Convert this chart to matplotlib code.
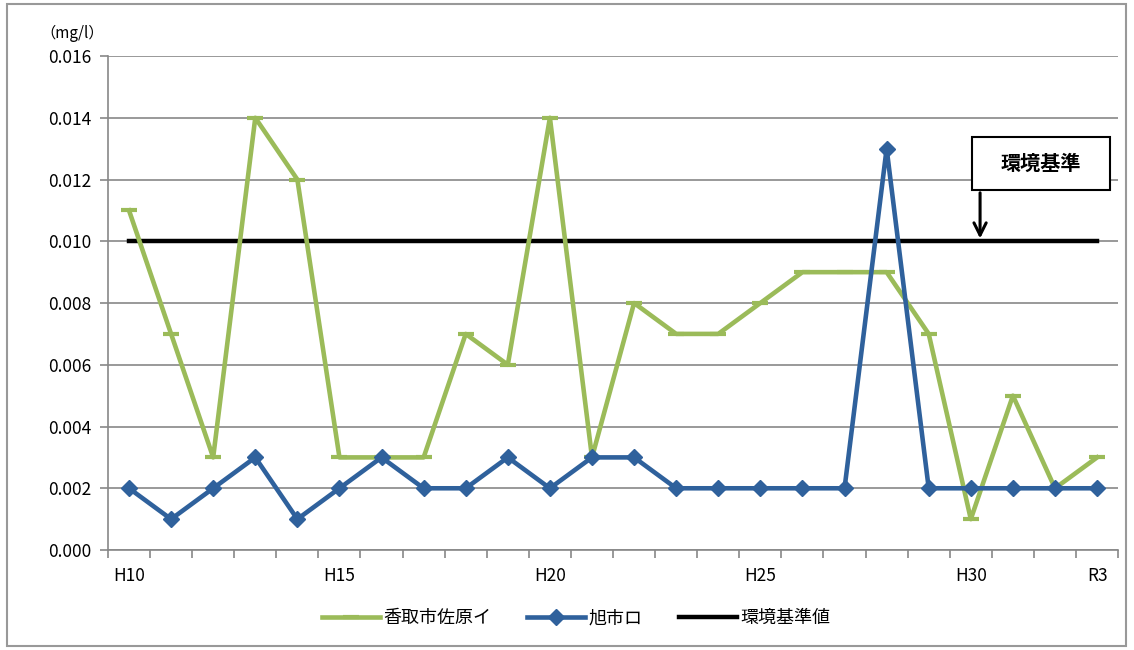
import matplotlib.pyplot as plt
import matplotlib.patches as patches
import numpy as np

plt.rcParams['font.family'] = ['Noto Sans CJK JP', 'DejaVu Sans']

nendo = ['H10', 'H11', 'H12', 'H13', 'H14', 'H15', 'H16', 'H17', 'H18', 'H19',
         'H20', 'H21', 'H22', 'H23', 'H24', 'H25', 'H26', 'H27', 'H28', 'H29',
         'H30', 'R1', 'R2', 'R3']
etiquetas = ['H10', '', '', '', '', 'H15', '', '', '', '', 'H20', '', '', '', '',
             'H25', '', '', '', '', 'H30', '', '', 'R3']
sawara = [0.011, 0.007, 0.003, 0.014, 0.012, 0.003, 0.003, 0.003, 0.007, 0.006,
          0.014, 0.003, 0.008, 0.007, 0.007, 0.008, 0.009, 0.009, 0.009, 0.007,
          0.001, 0.005, 0.002, 0.003]
asahi = [0.002, 0.001, 0.002, 0.003, 0.001, 0.002, 0.003, 0.002, 0.002, 0.003,
         0.002, 0.003, 0.003, 0.002, 0.002, 0.002, 0.002, 0.002, 0.013, 0.002,
         0.002, 0.002, 0.002, 0.002]
kijun = [0.010] * len(nendo)

x = np.arange(len(nendo))

fig = plt.figure(figsize=(11.34, 6.5), dpi=100)
ax = fig.add_axes([0.0952, 0.1538, 0.8908, 0.76])

ax.plot(x, sawara, color='#9BBB59', linewidth=3.3, marker='_', markersize=11,
        markeredgewidth=3, label='香取市佐原イ', zorder=3)
ax.plot(x, asahi, color='#2F619C', linewidth=3.3, marker='D', markersize=8,
        label='旭市ロ', zorder=4)
ax.plot(x, kijun, color='black', linewidth=3.2, label='環境基準値', zorder=2)

ax.set_xlim(-0.5, len(nendo) - 0.5)
ax.set_ylim(0, 0.016)
ax.set_yticks(np.arange(0, 0.0161, 0.002))
ax.set_yticklabels(['%.3f' % v for v in np.arange(0, 0.0161, 0.002)], fontsize=12.5)
ax.set_xticks(x)
ax.set_xticklabels(etiquetas, fontsize=12.5)
ax.tick_params(axis='x', length=0, pad=12)
ax.set_xticks(np.arange(-0.5, len(nendo)), minor=True)
ax.tick_params(axis='x', which='minor', length=6, color='#888888', width=1.2)
ax.tick_params(axis='y', length=6, color='#888888', width=1.2, pad=6)
ax.grid(axis='y', color='#888888', linewidth=1.2)
ax.set_axisbelow(True)
for s in ['top', 'right']:
    ax.spines[s].set_visible(False)
for s in ['left', 'bottom']:
    ax.spines[s].set_color('#888888')
    ax.spines[s].set_linewidth(1.2)

fig.text(0.036, 0.942, '（mg/l）', fontsize=11)

# caja de anotacion
ax.add_patch(patches.Rectangle((20.03, 0.01166), 3.28, 0.00172, facecolor='white',
                               edgecolor='black', linewidth=1.5, zorder=5, clip_on=False))
ax.text(21.67, 0.01252, '環境基準', fontsize=14.5, fontweight='bold', ha='center',
        va='center', zorder=6)
ax.annotate('', xy=(20.22, 0.0100), xytext=(20.22, 0.01166),
            arrowprops=dict(arrowstyle='->', color='black', lw=2.2, mutation_scale=22),
            zorder=6)

leg = fig.legend(loc='lower center', bbox_to_anchor=(0.508, 0.01), ncol=3, frameon=False,
                 fontsize=13, handlelength=3.2, columnspacing=2.0, handletextpad=0.2)

fig.add_artist(patches.Rectangle((0.006, 0.006), 0.987, 0.988, transform=fig.transFigure,
                                 fill=False, edgecolor='#999999', linewidth=1.5))

plt.savefig('out.png')
